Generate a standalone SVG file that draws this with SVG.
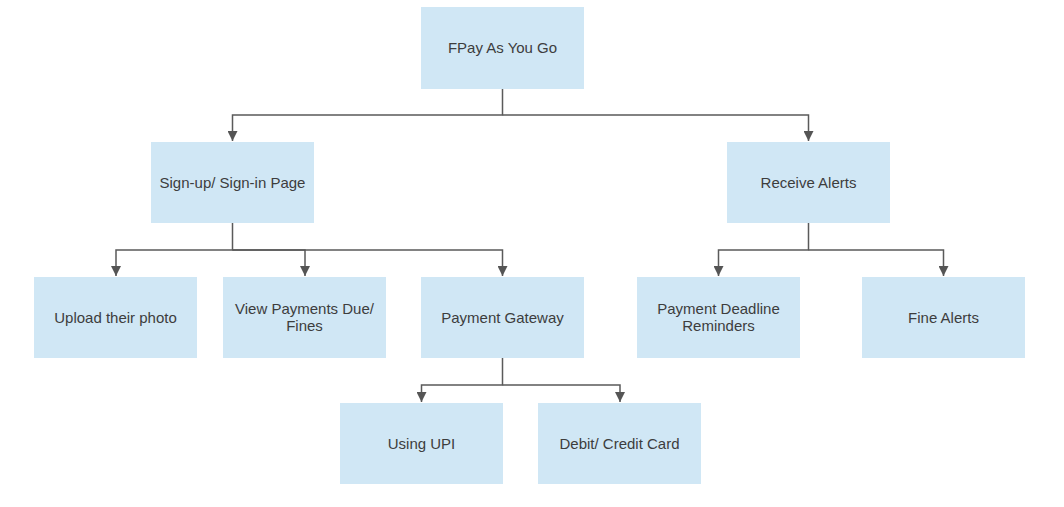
<svg xmlns="http://www.w3.org/2000/svg" width="1064" height="507" viewBox="0 0 1064 507">
<style>
.box{fill:#d0e7f5;stroke:none}
.lbl{font-family:"Liberation Sans",Arial,sans-serif;font-size:15px;fill:#3d3d3d;text-anchor:middle}
.ln{fill:none;stroke:#5a5a5a;stroke-width:1.5}
</style>
<defs>
<marker id="ah" viewBox="0 0 10 10" refX="10" refY="5" markerWidth="10" markerHeight="10" markerUnits="userSpaceOnUse" orient="auto">
<path d="M0,0 L10,5 L0,10 Z" fill="#555"/>
</marker>
</defs>
<rect width="1064" height="507" fill="#fff"/>
<g id="connectors">
<path class="ln" d="M502.5,89 V115 H232.5 V141" marker-end="url(#ah)"/>
<path class="ln" d="M502.5,115 H808.5 V141" marker-end="url(#ah)"/>
<path class="ln" d="M232.5,223 V250 H116 V276" marker-end="url(#ah)"/>
<path class="ln" d="M232.5,250 H305 V276" marker-end="url(#ah)"/>
<path class="ln" d="M232.5,250 H502.5 V276" marker-end="url(#ah)"/>
<path class="ln" d="M808.5,223 V250 H718.5 V276" marker-end="url(#ah)"/>
<path class="ln" d="M808.5,250 H943.5 V276" marker-end="url(#ah)"/>
<path class="ln" d="M502.5,358 V385 H421.5 V402" marker-end="url(#ah)"/>
<path class="ln" d="M502.5,385 H620 V402" marker-end="url(#ah)"/>
</g>
<g id="n-root"><rect class="box" x="421" y="7" width="163" height="82"/><text class="lbl" x="502.5" y="53">FPay As You Go</text></g>
<g id="n-signup"><rect class="box" x="151" y="142" width="163" height="81"/><text class="lbl" x="232.5" y="188">Sign-up/ Sign-in Page</text></g>
<g id="n-alerts"><rect class="box" x="727" y="142" width="163" height="81"/><text class="lbl" x="808.5" y="188">Receive Alerts</text></g>
<g id="n-upload"><rect class="box" x="34" y="277" width="163" height="81"/><text class="lbl" x="115.5" y="323">Upload their photo</text></g>
<g id="n-view"><rect class="box" x="223" y="277" width="163" height="81"/><text class="lbl" x="304.5" y="314">View Payments Due/</text><text class="lbl" x="304.5" y="331">Fines</text></g>
<g id="n-gateway"><rect class="box" x="421" y="277" width="163" height="81"/><text class="lbl" x="502.5" y="323">Payment Gateway</text></g>
<g id="n-deadline"><rect class="box" x="637" y="277" width="163" height="81"/><text class="lbl" x="718.5" y="314">Payment Deadline</text><text class="lbl" x="718.5" y="331">Reminders</text></g>
<g id="n-fine"><rect class="box" x="862" y="277" width="163" height="81"/><text class="lbl" x="943.5" y="323">Fine Alerts</text></g>
<g id="n-upi"><rect class="box" x="340" y="403" width="163" height="81"/><text class="lbl" x="421.5" y="449">Using UPI</text></g>
<g id="n-card"><rect class="box" x="538" y="403" width="163" height="81"/><text class="lbl" x="619.5" y="449">Debit/ Credit Card</text></g>
</svg>
